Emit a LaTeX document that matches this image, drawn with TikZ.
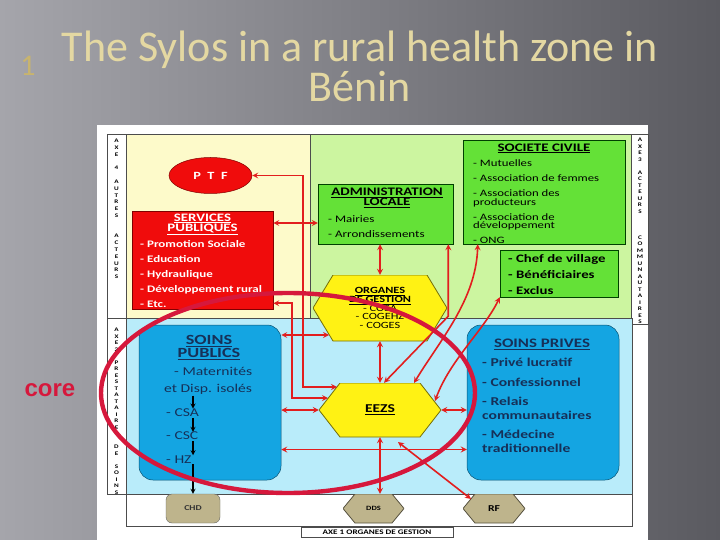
\documentclass[tikz,border=0pt]{standalone}
\usepackage{fontspec}
\setmainfont{Carlito}
\newfontfamily\diagfont[FakeStretch=1.3]{Carlito}
\newfontfamily\corefont{Liberation Sans}
\usetikzlibrary{shapes.geometric,calc}
\newcommand\tightlines{\lineskiplimit=-20pt\relax}

\definecolor{bgleft}{RGB}{165,165,171}
\definecolor{bgright}{RGB}{90,90,96}
\definecolor{titlegold}{RGB}{228,216,162}
\definecolor{numgold}{RGB}{200,180,110}
\definecolor{paleyellow}{RGB}{253,250,202}
\definecolor{palegreen}{RGB}{204,245,160}
\definecolor{palecyan}{RGB}{185,236,250}
\definecolor{boxred}{RGB}{240,12,12}
\definecolor{boxgreen}{RGB}{100,225,55}
\definecolor{hexyellow}{RGB}{255,242,20}
\definecolor{boxblue}{RGB}{20,165,226}
\definecolor{khaki}{RGB}{190,180,140}
\definecolor{linkred}{RGB}{226,30,30}
\definecolor{ringred}{RGB}{214,24,60}
\definecolor{navy}{RGB}{22,48,88}

\begin{document}
\begin{tikzpicture}[x=1pt, y=-1pt, >=stealth,
    slidetitle/.style={text=titlegold, font=\fontsize{44}{44}\selectfont},
    region/.style={draw=black!70, line width=0.6pt},
    axislabel/.style={font=\diagfont\bfseries\fontsize{5.5}{6.8}\selectfont, align=center, inner sep=0pt},
    redbox/.style={draw=red!50!black, fill=boxred, line width=0.5pt},
    greenbox/.style={draw=green!25!black, fill=boxgreen, line width=0.5pt},
    bluebox/.style={draw=boxblue!50!black, fill=boxblue, rounded corners=14pt, line width=0.5pt},
    hexa/.style 2 args={inner sep=0pt, draw=none, path picture={
        \filldraw[fill=#1, draw=#1!45!black, line width=0.8pt]
          ([xshift=#2]path picture bounding box.north west) -- ([xshift=-#2]path picture bounding box.north east)
          -- (path picture bounding box.east) -- ([xshift=-#2]path picture bounding box.south east)
          -- ([xshift=#2]path picture bounding box.south west) -- (path picture bounding box.west) -- cycle;}},
    head/.style={align=center, inner sep=0pt},
    items/.style={align=left, anchor=west, inner sep=0pt},
    pubitem/.style={items, text=navy, font=\diagfont\fontsize{12}{14}\selectfont},
    link/.style={<->, draw=linkred, line width=1.6pt},
    flow/.style={->, line width=1.2pt, shorten <=1pt},
    ring/.style={draw=ringred, line width=4.4pt}]

  \useasboundingbox (0,0) rectangle (720,540);

  % Slide
  \shade[left color=bgleft, right color=bgright] (0,0) rectangle (720,540);
  \node[anchor=base, text=numgold, font=\fontsize{30}{30}\selectfont] (num) at (28,76) {1};
  \node[slidetitle, anchor=base] (title) at (360,62) {The Sylos in a rural health zone in};
  \node[slidetitle, anchor=base] (subtitle) at (360,102) {Bénin};

  % Zones
  \fill[white] (97,125) rectangle (648,540);
  \draw[region, fill=white] (107,134) rectangle (126,318);
  \draw[region, fill=white] (107,318) rectangle (126,494);
  \draw[region, fill=paleyellow] (126,134) rectangle (310,318);
  \draw[region, fill=palegreen] (310,134) rectangle (631,318);
  \draw[region, fill=white] (631,134) rectangle (648,324);
  \draw[region, fill=palecyan] (126,318) rectangle (632,494);
  \draw[region] (126,494) rectangle (632,526);

  % Axes
  \node[axislabel] (axe4) at (116.5,209) {A\\X\\E\\~\\4\\~\\A\\U\\T\\R\\E\\S\\~\\~\\A\\C\\T\\E\\U\\R\\S};
  \node[axislabel, font=\diagfont\bfseries\fontsize{5.5}{6.5}\selectfont] (axe2) at (116.5,411) {A\\X\\E\\2\\~\\P\\R\\E\\S\\T\\A\\T\\A\\I\\R\\E\\S\\~\\D\\E\\~\\S\\O\\I\\N\\S};
  \node[axislabel, font=\diagfont\bfseries\fontsize{5.5}{6.5}\selectfont] (axe3) at (640,231) {A\\X\\E\\3\\~\\A\\C\\T\\E\\U\\R\\S\\~\\~\\~\\C\\O\\M\\M\\U\\N\\A\\U\\T\\A\\I\\R\\E\\S};
  \node[draw=black!70, fill=white, minimum width=152, minimum height=10, inner sep=0pt,
        font=\diagfont\bfseries\fontsize{7}{7}\selectfont] (axe1) at (377,532) {AXE 1 ORGANES DE GESTION};

  % Other actors
  \node[ellipse, redbox, minimum width=83, minimum height=36, text=white,
        font=\diagfont\bfseries\fontsize{11}{11}\selectfont] (ptf) at (210.5,175.5) {P\ \ T\ \ F};
  \node[redbox, minimum width=141, minimum height=98] (services) at (202.5,260) {};
  \node[head, text=white, font=\diagfont\bfseries\fontsize{11.4}{10}\selectfont] (services-head) at (202.5,224) {\underline{SERVICES}\\\underline{PUBLIQUES}};
  \node[items, text=white, font=\diagfont\bfseries\fontsize{10}{15}\selectfont] (services-list) at (140,273.6)
    {- Promotion Sociale\\- Education\\- Hydraulique\\- Développement rural\\- Etc.};

  % Community actors
  \node[greenbox, minimum width=135, minimum height=60] (admin) at (385.5,214) {};
  \node[head, font=\diagfont\bfseries\fontsize{11.5}{10}\selectfont] (admin-head) at (387,197.5) {\underline{ADMINISTRATION}\\\underline{LOCALE}};
  \node[items, font=\diagfont\fontsize{10}{15}\selectfont] (admin-list) at (328,226.5) {- Mairies\\- Arrondissements};
  \node[greenbox, minimum width=162, minimum height=104] (societe) at (544,192) {};
  \node[head, font=\diagfont\bfseries\fontsize{11.5}{10}\selectfont] (societe-head) at (544,148.3) {\underline{SOCIETE CIVILE}};
  \node[items, font=\diagfont\fontsize{9.8}{8.6}\selectfont\tightlines] (societe-list) at (473,201.7)
    {- Mutuelles\\[6.4pt]- Association de femmes\\[6.4pt]- Association des\\producteurs\\[6.4pt]- Association de\\développement\\[6.4pt]- ONG};
  \node[greenbox, minimum width=118, minimum height=47] (chef) at (559,273.5) {};
  \node[items, font=\diagfont\bfseries\fontsize{11.4}{16.2}\selectfont] (chef-list) at (508,274.4)
    {- Chef de village\\- Bénéficiaires\\- Exclus};

  % Management bodies
  \node[hexa={hexyellow}{20pt}, minimum width=134, minimum height=66, align=center,
        font=\diagfont\fontsize{9.5}{8.7}\selectfont\tightlines] (organes) at (380,308)
    {{\bfseries\underline{ORGANES}}\\{\bfseries\underline{DE GESTION}}\\- COSA\\- COGEHZ\\- COGES};
  \node[hexa={hexyellow}{21pt}, minimum width=122, minimum height=54,
        font=\diagfont\bfseries\fontsize{12}{12}\selectfont] (eezs) at (380,410) {\underline{EEZS}};
  \node[hexa={khaki}{12pt}, minimum width=61, minimum height=29,
        font=\diagfont\bfseries\fontsize{6.5}{6.5}\selectfont] (dds) at (373.5,508.5) {DDS};
  \node[hexa={khaki}{12pt}, minimum width=62, minimum height=29,
        font=\diagfont\bfseries\fontsize{9}{9}\selectfont] (rf) at (494,508.5) {RF};
  \node[draw=black!60, fill=khaki, rounded corners=6pt, minimum width=54, minimum height=29,
        font=\diagfont\bfseries\fontsize{7.5}{7.5}\selectfont, text=black!80] (chd) at (193,508.5) {CHD};

  % Care providers
  \node[bluebox, minimum width=142, minimum height=155] (publics) at (210,402.5) {};
  \node[head, text=navy, font=\diagfont\bfseries\fontsize{14}{12.6}\selectfont] (publics-head) at (209,347.5) {\underline{SOINS}\\\underline{PUBLICS}};
  \node[pubitem] (mat) at (174,371.7) {- Maternités};
  \node[pubitem] (disp) at (164,389.3) {et Disp. isolés};
  \node[pubitem] (csa) at (166,412.7) {- CSA};
  \node[pubitem] (csc) at (166,436) {- CSC};
  \node[pubitem] (hz) at (166,459.3) {- HZ};
  \node[bluebox, minimum width=152, minimum height=155] (prives) at (543,402.5) {};
  \node[head, text=navy, font=\diagfont\bfseries\fontsize{13}{13}\selectfont] (prives-head) at (542,344.3) {\underline{SOINS PRIVES}};
  \node[items, text=navy, font=\diagfont\bfseries\fontsize{12}{13.6}\selectfont\tightlines] (prives-list) at (482,405.5)
    {- Privé lucratif\\[5.8pt]- Confessionnel\\[5.8pt]- Relais\\communautaires\\[5.8pt]- Médecine\\traditionnelle};

  % Link ends on the hexagons
  \coordinate (e-ptf) at (337,387);
  \coordinate (e-sp) at (328,398);
  \coordinate (e-soc) at (414,383);
  \coordinate (e-chef) at (435,401);
  \coordinate (e-rf) at (398,442);
  \coordinate (rf-e) at (471,499);
  \coordinate (o-pub) at (329,335);

  % Links
  \draw[link] (ptf.east) -| (303,387) -- (e-ptf);
  \draw[link] ($(services.south east)+(0,-6)$) -| (292,398) -- (e-sp);
  \draw[link] ($(admin.west)+(0,9)$) -- ($(admin.west -| services.east)+(0,9)$);
  \draw[link] (admin.south -| organes.north) -- (organes.north);
  \draw[link] (organes.south) -- (eezs.north);
  \draw[link] (eezs.south) -- (eezs.south |- dds.north);
  \draw[link] (e-rf) -- (rf-e);
  \draw[link] (eezs.east) -- (eezs.east -| prives.west);
  \draw[link] (eezs.west) -- (eezs.west -| publics.east);
  \draw[link] (o-pub) -- (o-pub -| publics.east);
  \draw[link] ($(publics.east)+(0,47)$) -- ($(prives.west)+(0,47)$);
  \draw[link] ($(admin.south east)+(-5,0)$) -- ++(0,72) -- ([xshift=4pt]eezs.north);
  \draw[link] ($(societe.south west)+(15,0)$) .. controls (476,300) and (440,340) .. (e-soc);
  \draw[link] (chef.south west) .. controls (484,330) and (450,360) .. (e-chef);

  % Care levels
  \draw[flow] (disp.south -| chd.north) -- (csa.north -| chd.north);
  \draw[flow] (csa.south -| chd.north) -- (csc.north -| chd.north);
  \draw[flow] (csc.south -| chd.north) -- (hz.north -| chd.north);
  \draw[flow] (hz.south -| chd.north) -- (chd.north);

  % Core
  \draw[ring] (288,393) ellipse [x radius=187, y radius=100];
  \node[text=ringred, font=\corefont\bfseries\fontsize{24}{24}\selectfont] (core) at (50,390) {core};

\end{tikzpicture}
\end{document}
